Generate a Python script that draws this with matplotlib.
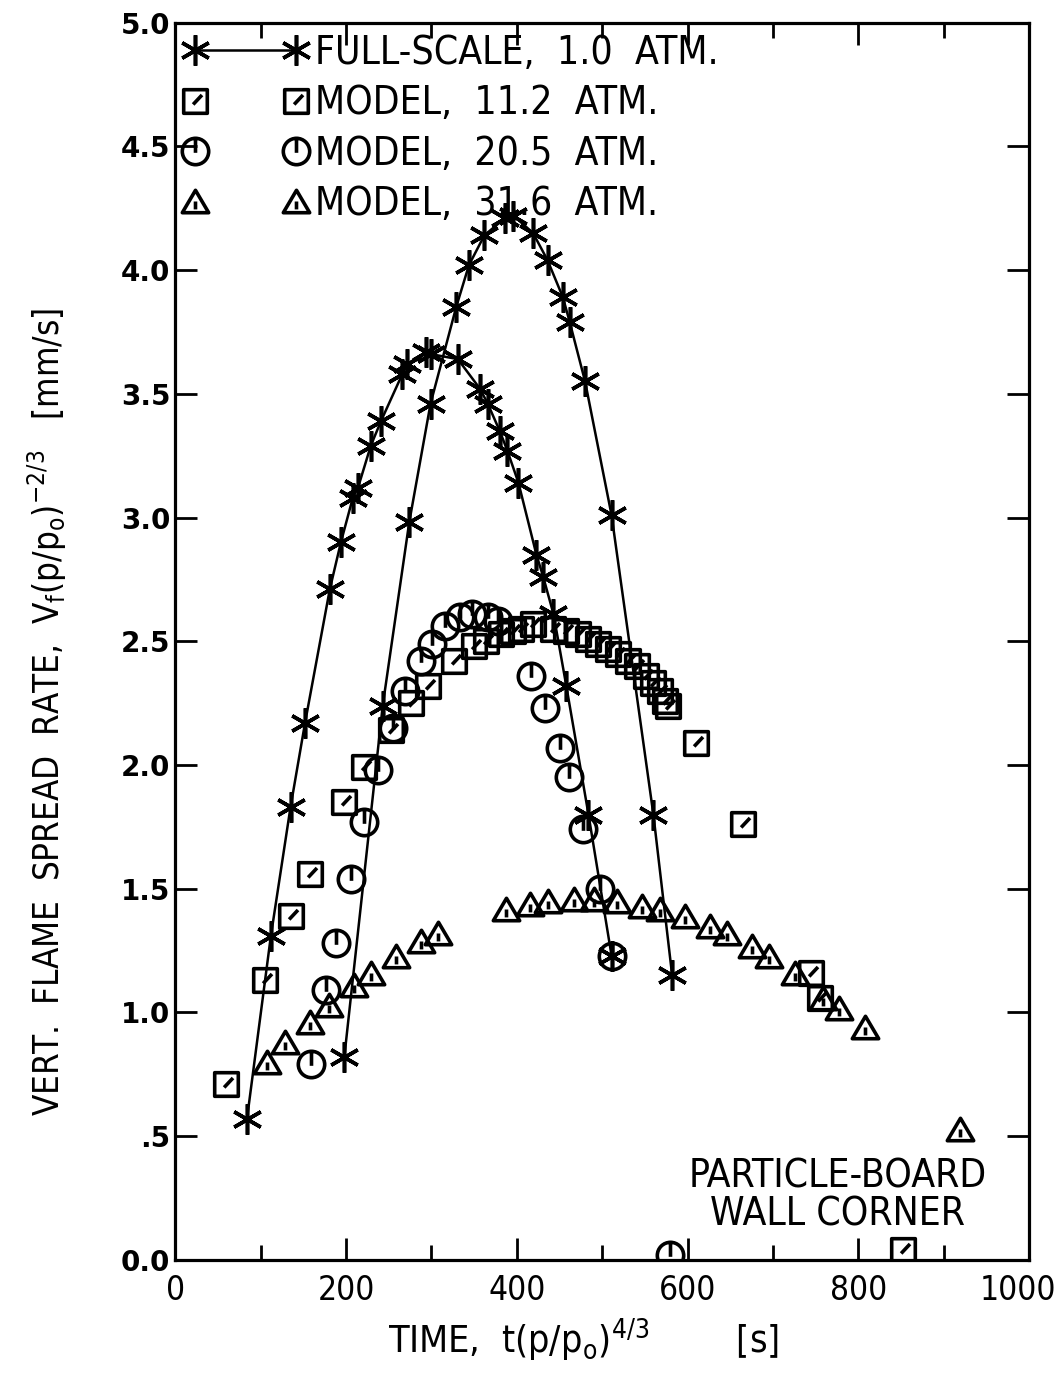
import matplotlib

matplotlib.use("Agg")
import matplotlib.pyplot as plt
from matplotlib.path import Path
from matplotlib.transforms import ScaledTranslation

# Full-scale runs (two tests at 1.0 atm), time in s, rate in mm/s
full_a_t = [84, 112, 135, 152, 181, 194, 208, 214, 229, 241, 266, 272, 294, 300,
            331, 357, 366, 380, 389, 402, 423, 431, 443, 458, 484, 511]
full_a_v = [0.57, 1.31, 1.83, 2.17, 2.71, 2.90, 3.08, 3.12, 3.29, 3.39, 3.58, 3.62, 3.67, 3.66,
            3.64, 3.52, 3.46, 3.35, 3.27, 3.14, 2.85, 2.76, 2.61, 2.32, 1.80, 1.23]
full_b_t = [198, 243, 274, 299, 329, 344, 362, 386, 396, 419, 436, 454, 462, 480, 511, 560, 582]
full_b_v = [0.82, 2.24, 2.98, 3.46, 3.85, 4.02, 4.14, 4.21, 4.22, 4.15, 4.04, 3.89, 3.79, 3.55,
            3.01, 1.80, 1.15]

# Model tests at elevated pressure
model_11_t = [59, 105, 136, 158, 198, 221, 253, 276, 296, 327, 350, 364, 381, 395, 405, 419,
              443, 458, 472, 484, 495, 507, 519, 530, 541, 551, 560, 568, 574, 577, 610, 665,
              745, 755, 852]
model_11_v = [0.71, 1.13, 1.39, 1.56, 1.85, 1.99, 2.14, 2.25, 2.32, 2.42, 2.48, 2.50, 2.53, 2.54,
              2.55, 2.57, 2.55, 2.54, 2.53, 2.51, 2.49, 2.47, 2.45, 2.42, 2.40, 2.36, 2.33, 2.30,
              2.26, 2.24, 2.09, 1.76, 1.16, 1.06, 0.04]
model_20_t = [159, 177, 188, 206, 221, 237, 255, 269, 288, 301, 316, 333, 348, 366, 378, 417,
              433, 451, 461, 478, 497, 511, 580]
model_20_v = [0.79, 1.09, 1.28, 1.54, 1.77, 1.98, 2.15, 2.30, 2.42, 2.49, 2.56, 2.60, 2.61, 2.60,
              2.58, 2.36, 2.23, 2.07, 1.95, 1.74, 1.50, 1.23, 0.02]
model_31_t = [108, 128, 158, 180, 209, 229, 258, 288, 308, 387, 415, 437, 467, 490, 517, 547,
              568, 597, 626, 646, 676, 696, 726, 759, 778, 808, 919]
model_31_v = [0.80, 0.88, 0.96, 1.03, 1.11, 1.16, 1.23, 1.29, 1.32, 1.42, 1.44, 1.45, 1.46, 1.46,
              1.45, 1.43, 1.42, 1.39, 1.35, 1.32, 1.27, 1.23, 1.16, 1.06, 1.02, 0.94, 0.53]

labels = ["FULL-SCALE,  1.0  ATM.", "MODEL,  11.2  ATM.", "MODEL,  20.5  ATM.", "MODEL,  31.6  ATM."]
x_ticks = [0, 200, 400, 600, 800, 1000]
y_ticks = [0.0, 0.5, 1.0, 1.5, 2.0, 2.5, 3.0, 3.5, 4.0, 4.5, 5.0]
y_ticklabels = ["0.0", ".5", "1.0", "1.5", "2.0", "2.5", "3.0", "3.5", "4.0", "4.5", "5.0"]

plt.rcParams["font.family"] = ["DejaVu Sans"]
plt.rcParams["font.stretch"] = "condensed"
plt.rcParams["mathtext.default"] = "regular"

M, L, C = Path.MOVETO, Path.LINETO, Path.CLOSEPOLY

# open symbols with the little plotter tick inside
square_tick = Path(
    [(-1, -1), (1, -1), (1, 1), (-1, 1), (-1, -1), (-0.2, -0.25), (0.55, 0.55)],
    [M, L, L, L, C, M, L])
circle_tick = Path.make_compound_path(
    Path.unit_circle(), Path([(0, -0.1), (0, 1)], [M, L]))
tri_tick = Path(
    [(0, 0.85), (-1, -0.85), (1, -0.85), (0, 0.85), (0, -0.6), (0, 0.0)],
    [M, L, L, C, M, L])
asterisk = (6, 2, 0)

fig = plt.figure(figsize=(10.59, 13.93), dpi=100)
ax = fig.add_axes([0.1655, 0.0955, 0.8062, 0.8883])

mew = 2.6
line_kw = dict(color="black", lw=1.8, marker=asterisk, ms=22, mew=mew, mec="black")
h_full, = ax.plot(full_a_t, full_a_v, label=labels[0], **line_kw)
ax.plot(full_b_t, full_b_v, **line_kw)

open_kw = dict(ls="none", mfc="none", mec="black", mew=mew)
h_11, = ax.plot(model_11_t, model_11_v, marker=square_tick, ms=17, label=labels[1], **open_kw)
h_20, = ax.plot(model_20_t, model_20_v, marker=circle_tick, ms=19, label=labels[2], **open_kw)
h_31, = ax.plot(model_31_t, model_31_v, marker=tri_tick, ms=19, label=labels[3], **open_kw)

ax.set_xlim(0, 1000)
ax.set_ylim(0, 5)
ax.set_xticks(x_ticks)
ax.set_xticks(range(100, 1000, 200), minor=True)
ax.set_yticks(y_ticks)
ax.set_yticklabels(y_ticklabels, family="DejaVu Sans", stretch="normal", weight="bold",
                   fontsize=20)
ax.tick_params(axis="x", labelsize=24, pad=10)
ax.tick_params(which="both", direction="in", top=True, right=True, width=2)
ax.tick_params(which="major", length=16)
ax.tick_params(which="minor", length=11)
for sp in ax.spines.values():
    sp.set_linewidth(2.3)

# keep the last x label inside the figure edge
last = ax.get_xticklabels()[-1]
last.set_transform(last.get_transform() + ScaledTranslation(-8 / 72, 0, fig.dpi_scale_trans))

ax.set_xlabel(r"TIME,  t(p/p$_o$)$^{4/3}$        [s]", fontsize=27)
ax.xaxis.set_label_coords(0.478, -0.046)
ax.set_ylabel(r"VERT.  FLAME  SPREAD  RATE,  V$_f$(p/p$_o$)$^{-2/3}$   [mm/s]", fontsize=25)
ax.yaxis.set_label_coords(-0.125, 0.443)

ax.text(776, 0.26, "PARTICLE-BOARD\nWALL CORNER", ha="center", va="center",
        fontsize=28, linespacing=1.0)

ax.legend(handles=[h_full, h_11, h_20, h_31], loc="upper left",
          bbox_to_anchor=(0.009, 0.991), frameon=False, fontsize=28,
          numpoints=2, handlelength=3.2, handletextpad=0.2,
          borderpad=0, borderaxespad=0, labelspacing=0.32)

fig.savefig("out.png", dpi=100)
